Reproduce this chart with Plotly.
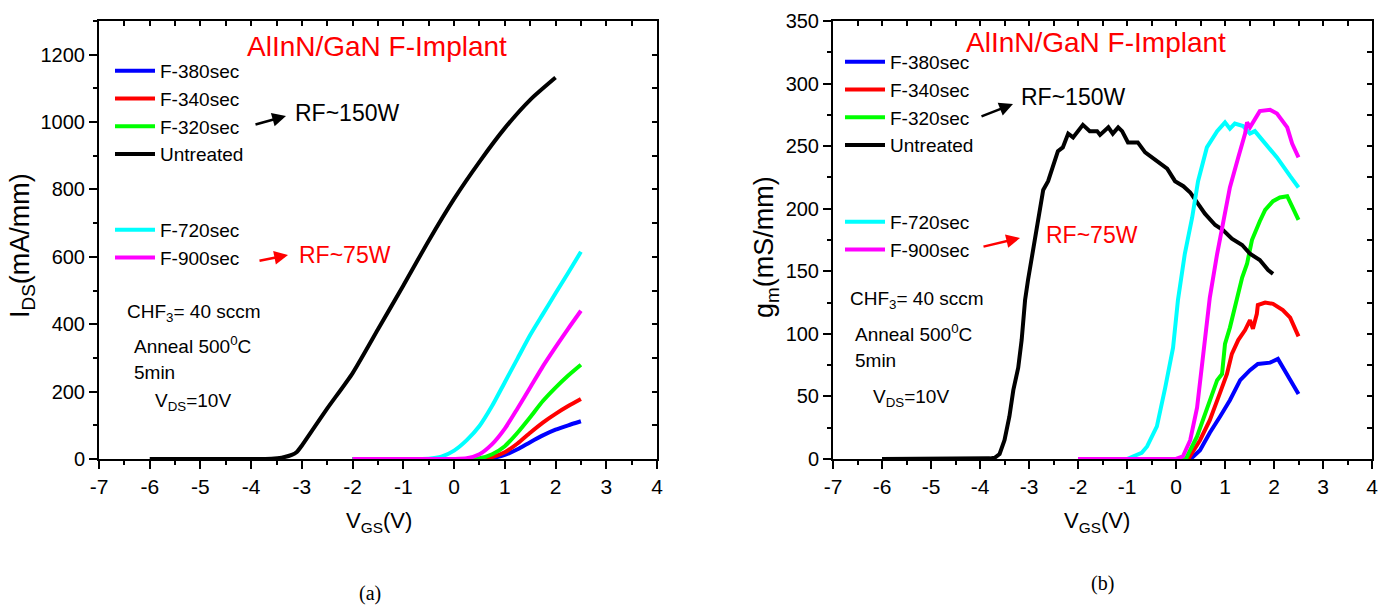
import plotly.graph_objects as go

# ---------------- data: panel (a) I_DS vs V_GS ----------------
vgs_untreated_a = [-6, -5, -4, -3.6, -3.4, -3.2, -3.1, -3.0, -2.8, -2.5, -2.0, -1.5, -1.0, -0.5, 0, 0.5, 1.0, 1.5, 2.0]
ids_untreated = [0, 0, 0, 1, 4, 12, 21, 40, 84, 150, 255, 385, 515, 648, 772, 882, 982, 1066, 1132]

vgs_treated_a = [-2, -1, -0.5, -0.25, 0, 0.25, 0.5, 0.75, 1.0, 1.25, 1.5, 1.75, 2.0, 2.25, 2.5]
ids_720 = [0, 0, 1, 7, 25, 56, 98, 158, 228, 298, 368, 430, 492, 553, 615]
ids_900 = [0, 0, 0, 0, 0, 2, 14, 44, 90, 150, 212, 275, 332, 387, 440]
ids_320 = [0, 0, 0, 0, 0, 0, 2, 14, 38, 78, 124, 172, 212, 248, 280]
ids_340 = [0, 0, 0, 0, 0, 0, 0, 6, 20, 46, 78, 108, 134, 157, 178]
ids_380 = [0, 0, 0, 0, 0, 0, 0, 3, 12, 29, 50, 70, 87, 100, 112]

# ---------------- data: panel (b) g_m vs V_GS ----------------
vgs_gm_untreated = [-6, -5, -4, -3.8, -3.7, -3.6, -3.5, -3.4, -3.32, -3.22, -3.15, -3.08, -3.02, -2.92, -2.8,
                    -2.71, -2.61, -2.51, -2.41, -2.31, -2.2, -2.1, -2.0, -1.9, -1.76, -1.61, -1.55, -1.45,
                    -1.38, -1.29, -1.18, -1.1, -0.98, -0.85, -0.78, -0.63, -0.5, -0.37, -0.18, -0.02, 0.15,
                    0.29, 0.43, 0.59, 0.8, 0.96, 1.14, 1.35, 1.51, 1.71, 1.88, 1.98]
gm_untreated = [0, 0, 0, 0.5, 1, 4, 15, 34, 55, 73, 95, 127, 143, 167, 195,
                215, 222, 233, 246, 249, 260, 257, 262, 267, 262, 262, 259, 263,
                265, 260, 265, 262, 253, 253, 253, 245, 241, 237, 232, 222, 218,
                213, 205, 196, 187, 183, 176, 171, 164, 159, 151, 148]

vgs_gm_720 = [-2, -1, -0.88, -0.7, -0.59, -0.39, -0.22, -0.06, 0.04, 0.18, 0.33, 0.45, 0.63, 0.84, 1.0, 1.1,
              1.2, 1.37, 1.51, 1.61, 1.78, 2.06, 2.33, 2.5]
gm_720 = [0, 0, 2, 5, 10, 26, 57, 89, 127, 164, 193, 222, 249, 262, 269, 264,
          268, 266, 260, 262, 254, 241, 226, 217]

vgs_gm_900 = [-2, 0, 0.14, 0.29, 0.43, 0.55, 0.69, 0.84, 0.96, 1.1, 1.27, 1.41, 1.45, 1.51, 1.71, 1.92,
              2.06, 2.27, 2.37, 2.5]
gm_900 = [0, 0, 2, 15, 41, 85, 129, 164, 190, 217, 241, 260, 269, 265, 278, 279,
          276, 265, 252, 241]

vgs_gm_320 = [-2, 0.2, 0.43, 0.63, 0.84, 0.94, 1.0, 1.1, 1.24, 1.35, 1.45, 1.55, 1.71, 1.82, 1.98, 2.12, 2.27, 2.5]
gm_320 = [0, 0, 18, 39, 63, 68, 92, 105, 127, 145, 156, 175, 190, 199, 206, 209, 210, 191]

vgs_gm_340 = [-2, 0.25, 0.49, 0.69, 0.9, 1.04, 1.14, 1.27, 1.41, 1.51, 1.57, 1.65, 1.67, 1.82, 1.98, 2.18, 2.33, 2.5]
gm_340 = [0, 0, 15, 31, 53, 68, 84, 95, 103, 111, 104, 116, 123, 125, 124, 119, 113, 98]

vgs_gm_380 = [-2, 0.3, 0.49, 0.69, 0.9, 1.1, 1.31, 1.51, 1.67, 1.92, 2.08, 2.18, 2.33, 2.5]
gm_380 = [0, 0, 7, 21, 34, 47, 63, 71, 76, 77, 80, 73, 63, 52]

series_names = ["F-380sec", "F-340sec", "F-320sec", "Untreated", "F-720sec", "F-900sec"]
series_colors = ["#0000FF", "#FF0000", "#00FF00", "#000000", "#00FFFF", "#FF00FF"]

x_ticks = [-7, -6, -5, -4, -3, -2, -1, 0, 1, 2, 3, 4]
x_ticktext = ["-7", "-6", "-5", "-4", "-3", "-2", "-1", "0", "1", "2", "3", "4"]
ids_ticks = [0, 200, 400, 600, 800, 1000, 1200]
gm_ticks = [0, 50, 100, 150, 200, 250, 300, 350]

W, H = 1395, 605


def px(v):
    return v / W


def py(v):
    return 1 - v / H


SANS = "Liberation Sans, Arial, sans-serif"
NARROW = "Liberation Sans Narrow, Arial Narrow, Liberation Sans, Arial, sans-serif"
SERIF = "Liberation Serif, Times New Roman, serif"
LW = 4

fig = go.Figure()

data_a = [vgs_treated_a, vgs_treated_a, vgs_treated_a, vgs_untreated_a, vgs_treated_a, vgs_treated_a]
vals_a = [ids_380, ids_340, ids_320, ids_untreated, ids_720, ids_900]
data_b = [vgs_gm_380, vgs_gm_340, vgs_gm_320, vgs_gm_untreated, vgs_gm_720, vgs_gm_900]
vals_b = [gm_380, gm_340, gm_320, gm_untreated, gm_720, gm_900]

for i, name in enumerate(series_names):
    fig.add_trace(go.Scatter(
        x=data_a[i], y=vals_a[i], mode="lines", name=name,
        line=dict(color=series_colors[i], width=LW, shape="spline", smoothing=0.6),
        xaxis="x", yaxis="y", legend="legend" if i < 4 else "legend2"))
for i, name in enumerate(series_names):
    fig.add_trace(go.Scatter(
        x=data_b[i], y=vals_b[i], mode="lines", name=name,
        line=dict(color=series_colors[i], width=LW),
        xaxis="x2", yaxis="y2", legend="legend3" if i < 4 else "legend4"))

# empty traces to create mirror (inside-tick) overlay axes
fig.add_trace(go.Scatter(x=[], y=[], xaxis="x3", yaxis="y3", showlegend=False, hoverinfo="skip"))
fig.add_trace(go.Scatter(x=[], y=[], xaxis="x4", yaxis="y4", showlegend=False, hoverinfo="skip"))

dom_a = [px(99), px(657)]
dom_b = [px(833), px(1372)]
dom_y = [1 - 459 / H, 1 - 21 / H]

axis_common = dict(showgrid=False, zeroline=False, showline=True, linecolor="black", linewidth=2,
                   tickcolor="black", tickwidth=2, automargin=False)

xbottom = dict(axis_common, range=[-7, 4], tickvals=x_ticks, ticktext=x_ticktext, ticks="outside", ticklen=8,
               minor=dict(ticks="outside", dtick=0.5, ticklen=4, tickcolor="black", tickwidth=2),
               tickfont=dict(family=NARROW, size=21, color="black"))
xtop = dict(axis_common, range=[-7, 4], tickvals=x_ticks, ticks="inside", ticklen=5, side="top",
            showticklabels=False,
            minor=dict(ticks="inside", dtick=0.5, ticklen=5, tickcolor="black", tickwidth=2))

fig.update_layout(
    width=W, height=H, margin=dict(l=0, r=0, t=0, b=0, autoexpand=False),
    paper_bgcolor="white", plot_bgcolor="white",
    xaxis=dict(xbottom, domain=dom_a, anchor="y"),
    yaxis=dict(axis_common, domain=dom_y, range=[0, 1300], tickvals=ids_ticks, ticks="outside", ticklen=8,
               anchor="x",
               minor=dict(ticks="outside", dtick=100, ticklen=4, tickcolor="black", tickwidth=2),
               tickfont=dict(family=SANS, size=20, color="black")),
    xaxis3=dict(xtop, domain=dom_a, anchor="y3", overlaying="x"),
    yaxis3=dict(axis_common, domain=dom_y, range=[0, 1300], tickvals=ids_ticks, ticks="inside", ticklen=5,
                side="right", anchor="x3", overlaying="y", showticklabels=False,
                minor=dict(ticks="inside", dtick=100, ticklen=5, tickcolor="black", tickwidth=2)),
    xaxis2=dict(xbottom, domain=dom_b, anchor="y2"),
    yaxis2=dict(axis_common, domain=dom_y, range=[0, 350], tickvals=gm_ticks, ticks="outside", ticklen=8,
                anchor="x2",
                minor=dict(ticks="outside", dtick=25, ticklen=4, tickcolor="black", tickwidth=2),
                tickfont=dict(family=SANS, size=20, color="black")),
    xaxis4=dict(xtop, domain=dom_b, anchor="y4", overlaying="x2"),
    yaxis4=dict(axis_common, domain=dom_y, range=[0, 350], tickvals=gm_ticks, ticks="inside", ticklen=5,
                side="right", anchor="x4", overlaying="y2", showticklabels=False,
                minor=dict(ticks="inside", dtick=25, ticklen=5, tickcolor="black", tickwidth=2)),
    showlegend=True,
)

leg_common = dict(xanchor="left", yanchor="top", bgcolor="rgba(0,0,0,0)", borderwidth=0,
                  font=dict(family=SANS, size=19, color="black"), traceorder="normal", itemwidth=40)
fig.update_layout(
    legend=dict(leg_common, x=px(110), y=py(52)),
    legend2=dict(leg_common, x=px(110), y=py(211)),
    legend3=dict(leg_common, x=px(840), y=py(43)),
    legend4=dict(leg_common, x=px(840), y=py(203)),
)

ann = []


def text(x, y, t, size=19, color="black", family=SANS, xanchor="left", angle=0):
    ann.append(dict(x=px(x), y=py(y), xref="paper", yref="paper", text=t, showarrow=False,
                    xanchor=xanchor, yanchor="middle", textangle=angle,
                    font=dict(family=family, size=size, color=color)))


def arrow(x0, y0, x1, y1, color):
    ann.append(dict(x=px(x1), y=py(y1), xref="paper", yref="paper", ax=x0 - x1, ay=y0 - y1,
                    axref="pixel", ayref="pixel", text="", showarrow=True, arrowhead=2,
                    arrowsize=1.1, arrowwidth=2.5, arrowcolor=color, standoff=0, startstandoff=0))


# titles
text(377, 47, "AlInN/GaN F-Implant", size=28, color="#FF0000", xanchor="center")
text(1096, 43, "AlInN/GaN F-Implant", size=28, color="#FF0000", xanchor="center")

# RF annotations
text(293, 113, "RF~150W", size=23)
text(297, 255, "RF~75W", size=23, color="#FF0000")
arrow(254, 125, 286, 116, "black")
arrow(258, 261, 288, 255, "#FF0000")
text(1019, 97, "RF~150W", size=23)
text(1044, 235, "RF~75W", size=23, color="#FF0000")
arrow(980, 117, 1013, 104, "black")
arrow(982, 247, 1020, 238, "#FF0000")

# condition text
for (x0, ys) in [((125, 132, 132, 153), (313, 345, 372, 402)), ((848, 853, 853, 871), (300, 333, 360, 398))]:
    text(x0[0], ys[0], "CHF<sub>3</sub>= 40 sccm")
    text(x0[1], ys[1], "Anneal 500<sup>0</sup>C")
    text(x0[2], ys[2], "5min")
    text(x0[3], ys[3], "V<sub>DS</sub>=10V")

# axis titles
text(379, 522, "V<sub>GS</sub>(V)", size=22, family=NARROW, xanchor="center")
text(1097, 522, "V<sub>GS</sub>(V)", size=22, family=NARROW, xanchor="center")
text(22, 246, "I<sub>DS</sub>(mA/mm)", size=27, xanchor="center", angle=-90)
text(766, 247, "g<sub>m</sub>(mS/mm)", size=27, xanchor="center", angle=-90)

# captions
text(370, 593, "(a)", size=20, family=SERIF, xanchor="center")
text(1102, 583, "(b)", size=20, family=SERIF, xanchor="center")

fig.update_layout(annotations=ann)

fig.write_html("out.html", config={"displayModeBar": False},
               post_script="document.body.style.margin='0';document.body.style.overflow='hidden';")
